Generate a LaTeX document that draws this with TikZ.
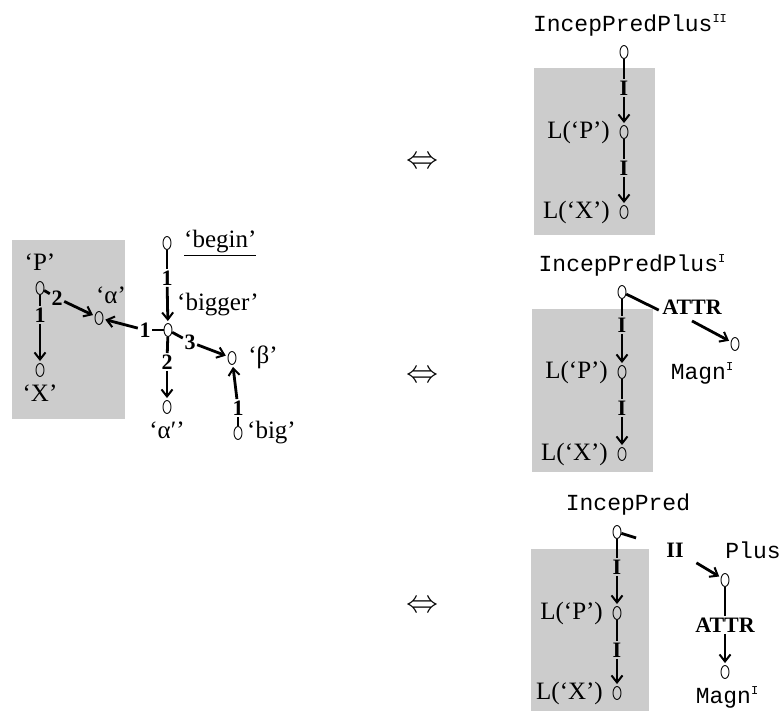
\RequirePackage{fix-cm}
\documentclass[tikz,border=0pt]{standalone}
\usepackage{fontspec}
\setmainfont{Liberation Serif}
\setmonofont{Liberation Mono}
\usepackage{tikz}
\usetikzlibrary{shapes.geometric,arrows.meta}
\definecolor{shade}{HTML}{CCCCCC}
\newcommand\lexsup[1]{\raisebox{0.75ex}{\fontsize{12}{12}\selectfont #1}}
\tikzset{
  vert/.style={ellipse, draw, line width=0.9pt, minimum width=8pt, minimum height=13pt, inner sep=0pt},
  rel/.style={font=\fontsize{22}{22}\selectfont\bfseries, inner sep=1.5pt},
  lab/.style={font=\fontsize{25}{25}\selectfont, inner sep=1pt},
  lex/.style={font=\fontsize{23}{23}\ttfamily, inner sep=1pt},
  edge/.style={line width=2.8pt},
  arr/.style={edge, -{Straight Barb[length=7pt,width=11pt,line width=2pt]}, shorten >=2pt},
  shadebox/.style={fill=shade, draw=none},
  equiv/.style={font=\fontsize{32}{32}\selectfont}
}
\begin{document}
\begin{tikzpicture}[x=1pt,y=-1pt]
  \useasboundingbox (0,0) rectangle (781,711);

  % left: 'begin bigger'
  \fill[shadebox] (12,240) rectangle (125,419);
  \node[vert] (P) at (40,288) {};
  \node[vert] (X) at (40,370) {};
  \node[vert] (al) at (99,318) {};
  \node[vert] (begin) at (167,243) {};
  \node[vert] (bigger) at (168,330) {};
  \node[vert] (alp) at (167,407) {};
  \node[vert] (be) at (232,358) {};
  \node[vert] (big) at (238,433) {};

  \node[lab] (lP) at (40,262) {`P'};
  \node[lab] (lX) at (40,393) {`X'};
  \node[lab] (lal) at (111,295) {`α'};
  \node[lab, anchor=west] (lbegin) at (183,243) {\underline{`begin'}};
  \node[lab, anchor=west] (lbigger) at (176,305) {`bigger'};
  \node[lab] (lalp) at (167,430) {`α′'};
  \node[lab] (lbe) at (263,357) {`β'};
  \node[lab, anchor=west] (lbig) at (246,433) {`big'};

  \node[rel] (rPX) at (40,315) {1};
  \node[rel] (rPa) at (57,298) {2};
  \node[rel] (rbb) at (167,278) {1};
  \node[rel] (rba) at (145,330) {1};
  \node[rel] (rbap) at (167,362) {2};
  \node[rel] (rbbe) at (190,342) {3};
  \node[rel] (rbig) at (238,408) {1};

  \draw[edge] (P) -- (rPX);   \draw[arr] (rPX) -- (X);
  \draw[edge] (P) -- (rPa);   \draw[arr] (rPa) -- (al);
  \draw[edge] (begin) -- (rbb); \draw[arr] (rbb) -- (bigger);
  \draw[edge] (bigger) -- (rba); \draw[arr] (rba) -- (al);
  \draw[edge] (bigger) -- (rbap); \draw[arr] (rbap) -- (alp);
  \draw[edge] (bigger) -- (rbbe); \draw[arr] (rbbe) -- (be);
  \draw[edge] (big) -- (rbig); \draw[arr] (rbig) -- (be);

  % equivalences
  \node[equiv] (eq1) at (422,163) {$\Leftrightarrow$};
  \node[equiv] (eq2) at (422,377) {$\Leftrightarrow$};
  \node[equiv] (eq3) at (422,607) {$\Leftrightarrow$};

  % right, top
  \fill[shadebox] (534,68) rectangle (655,235);
  \node[lex] (ipp1) at (630,25) {IncepPredPlus\lexsup{II}};
  \node[vert] (t0) at (624,52) {};
  \node[vert] (t1) at (624,132) {};
  \node[vert] (t2) at (624,212) {};
  \node[lab, anchor=east] (lt1) at (611,132) {L(`P')};
  \node[lab, anchor=east] (lt2) at (611,212) {L(`X')};
  \node[rel] (rt1) at (624,88) {I};
  \node[rel] (rt2) at (624,168) {I};
  \draw[edge] (t0) -- (rt1); \draw[arr] (rt1) -- (t1);
  \draw[edge] (t1) -- (rt2); \draw[arr] (rt2) -- (t2);

  % right, middle
  \fill[shadebox] (532,309) rectangle (653,472);
  \node[lex] (ipp2) at (632,265) {IncepPredPlus\lexsup{I}};
  \node[vert] (m0) at (622,292) {};
  \node[vert] (m1) at (622,372) {};
  \node[vert] (m2) at (622,454) {};
  \node[vert] (mm) at (735,344) {};
  \node[lab, anchor=east] (lm1) at (609,372) {L(`P')};
  \node[lab, anchor=east] (lm2) at (609,454) {L(`X')};
  \node[lex] (lmm) at (702,373) {Magn\lexsup{I}};
  \node[rel] (rm1) at (622,325) {I};
  \node[rel] (rm2) at (622,408) {I};
  \node[rel] (rattr2) at (692,307) {ATTR};
  \draw[edge] (m0) -- (rm1); \draw[arr] (rm1) -- (m1);
  \draw[edge] (m1) -- (rm2); \draw[arr] (rm2) -- (m2);
  \draw[edge, shorten >=2pt] (m0) -- ([yshift=-4pt]rattr2.west);
  \draw[arr] ([yshift=-5pt]rattr2.south) -- (mm);

  % right, bottom
  \fill[shadebox] (531,549) rectangle (649,711);
  \node[lex] (ip3) at (628,505) {IncepPred};
  \node[lex] (pl3) at (753,550) {Plus};
  \node[vert] (b0) at (617,532) {};
  \node[vert] (b1) at (617,613) {};
  \node[vert] (b2) at (617,693) {};
  \node[vert] (bp) at (725,580) {};
  \node[vert] (bm) at (725,672) {};
  \node[lab, anchor=east] (lb1) at (604,613) {L(`P')};
  \node[lab, anchor=east] (lb2) at (604,693) {L(`X')};
  \node[lex] (lbm) at (727,697) {Magn\lexsup{I}};
  \node[rel] (rb1) at (617,567) {I};
  \node[rel] (rb2) at (617,650) {I};
  \node[rel] (rii) at (675,550) {II};
  \node[rel] (rattr3) at (725,625) {ATTR};
  \draw[edge] (b0) -- (rb1); \draw[arr] (rb1) -- (b1);
  \draw[edge] (b1) -- (rb2); \draw[arr] (rb2) -- (b2);
  \draw[edge, shorten >=30pt] (b0) -- (rii);
  \draw[arr, shorten <=13pt] (rii) -- (bp);
  \draw[edge] (bp) -- (rattr3);
  \draw[arr] (rattr3) -- (bm);
\end{tikzpicture}
\end{document}
